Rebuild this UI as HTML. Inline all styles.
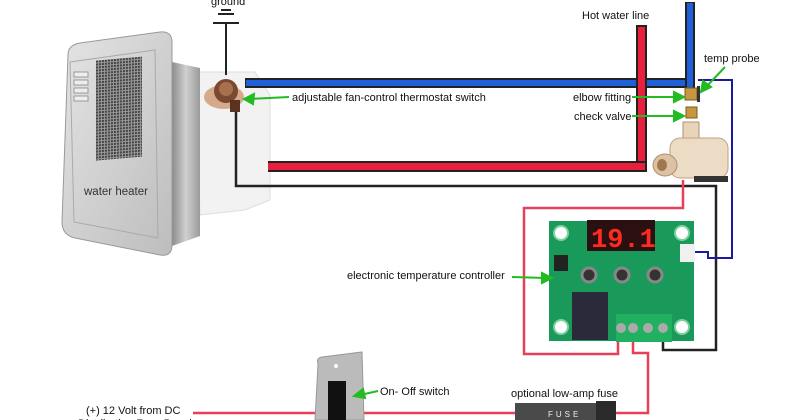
<!DOCTYPE html>
<html><head><meta charset="utf-8"><style>
html,body{margin:0;padding:0;background:#fff;}
svg{display:block;}
text{font-family:"Liberation Sans",Arial,sans-serif;font-size:11px;fill:#111;}
</style></head><body>
<svg width="800" height="420" viewBox="0 0 800 420" xmlns="http://www.w3.org/2000/svg">
<defs>
<linearGradient id="bz" x1="0" x2="1" y1="0" y2="1"><stop offset="0" stop-color="#e4e4e4"/><stop offset="1" stop-color="#bdbdbd"/></linearGradient>
<linearGradient id="gal" x1="0" x2="1"><stop offset="0" stop-color="#8c8c8c"/><stop offset=".5" stop-color="#d0d0d0"/><stop offset="1" stop-color="#9a9a9a"/></linearGradient>
<pattern id="grid" width="3" height="3" patternUnits="userSpaceOnUse"><rect width="3" height="3" fill="#999"/><rect width="2" height="2" fill="#444"/></pattern>
</defs>

<!-- heater body -->
<polygon points="195,72 255,72 270,95 270,200 245,210 200,215" fill="#f2f2f2" stroke="#ddd"/>
<polygon points="172,62 200,68 200,236 172,246" fill="url(#gal)"/>
<!-- bezel -->
<path d="M68,55 Q68,45 80,43 L160,32 Q172,31 172,42 L172,245 Q172,257 160,255 L75,238 Q62,235 62,222 Z" fill="url(#bz)" stroke="#999"/>
<path d="M70,62 L155,50 L158,238 L74,222 Z" fill="none" stroke="#aaa"/>
<rect x="96" y="60" width="46" height="100" fill="url(#grid)" transform="skewY(-5) translate(0,9)"/>
<rect x="74" y="72" width="14" height="5" fill="#eee" stroke="#999"/>
<rect x="74" y="80" width="14" height="5" fill="#eee" stroke="#999"/>
<rect x="74" y="88" width="14" height="5" fill="#eee" stroke="#999"/>
<rect x="74" y="96" width="14" height="5" fill="#eee" stroke="#999"/>
<text x="84" y="195" style="font-size:11.5px;fill:#333">water heater</text>

<!-- ground -->
<text x="211" y="5" style="font-size:11px">ground</text>
<rect x="221" y="9" width="10" height="2" fill="#222"/>
<rect x="218" y="13" width="16" height="2" fill="#222"/>
<rect x="213" y="22" width="26" height="2" fill="#222"/>
<rect x="225" y="23" width="2" height="52" fill="#222"/>

<!-- blue line -->
<rect x="245" y="78" width="448" height="10" fill="#222"/>
<rect x="246" y="80" width="446" height="6" fill="#1f5fd8"/>
<rect x="685" y="2" width="10" height="90" fill="#222"/>
<rect x="687" y="3" width="6" height="88" fill="#1f5fd8"/>
<!-- red line -->
<rect x="636" y="25" width="11" height="147" fill="#222"/>
<rect x="638" y="27" width="7" height="143" fill="#e8203e"/>
<rect x="268" y="161" width="379" height="11" fill="#222"/>
<rect x="268" y="163" width="377" height="7" fill="#e8203e"/>
<rect x="638" y="80" width="7" height="6" fill="#e8203e"/>

<!-- black wire -->
<polyline points="236,108 236,186 716,186 716,350 663,350 663,340" fill="none" stroke="#222" stroke-width="2.5"/>
<!-- blue probe wire -->
<polyline points="698,80 732,80 732,258 708,258 708,252 690,252" fill="none" stroke="#1a1aa0" stroke-width="2"/>
<!-- red wires -->
<polyline points="683,180 683,208 524,208 524,354 618,354 618,340" fill="none" stroke="#e8405a" stroke-width="2.5"/>
<polyline points="633,340 633,353 648,353 648,413 615,413" fill="none" stroke="#e8405a" stroke-width="2.5"/>
<line x1="193" y1="413" x2="515" y2="413" stroke="#e8405a" stroke-width="2.5"/>

<!-- thermostat -->
<ellipse cx="224" cy="97" rx="20" ry="12" fill="#d7a98c"/>
<circle cx="226" cy="91" r="12" fill="#7a4a30"/>
<circle cx="226" cy="89" r="7" fill="#a8704e"/>
<rect x="230" y="100" width="10" height="12" fill="#5a3320"/>

<!-- fittings -->
<rect x="685" y="88" width="12" height="12" fill="#c8963e" stroke="#7a5a20"/>
<rect x="697" y="86" width="3" height="16" fill="#333"/>
<rect x="686" y="107" width="11" height="11" fill="#c8963e" stroke="#7a5a20"/>
<!-- pump -->
<rect x="683" y="122" width="16" height="18" fill="#e8d3bb" stroke="#b09070"/>
<rect x="670" y="138" width="58" height="40" rx="10" fill="#ecdcc6" stroke="#c0a080"/>
<ellipse cx="665" cy="165" rx="12" ry="11" fill="#dcc2a2" stroke="#b09070"/>
<ellipse cx="662" cy="165" rx="5" ry="6" fill="#a07850"/>
<rect x="694" y="176" width="34" height="6" fill="#333"/>

<!-- board -->
<rect x="549" y="221" width="145" height="120" fill="#1a9a5a"/>
<circle cx="561" cy="233" r="7" fill="#fff" stroke="#7fd0a0" stroke-width="2"/>
<circle cx="682" cy="233" r="7" fill="#fff" stroke="#7fd0a0" stroke-width="2"/>
<circle cx="561" cy="327" r="7" fill="#fff" stroke="#7fd0a0" stroke-width="2"/>
<circle cx="682" cy="327" r="7" fill="#fff" stroke="#7fd0a0" stroke-width="2"/>
<rect x="587" y="220" width="68" height="31" fill="#2a1010"/>
<text x="591" y="247" style="font-size:27px;fill:#ff2a20;font-family:'Liberation Mono',monospace;font-weight:bold">19.1</text>
<rect x="680" y="244" width="15" height="18" fill="#f0f0f0"/>
<circle cx="589" cy="275" r="7" fill="#333" stroke="#888" stroke-width="3"/>
<circle cx="622" cy="275" r="7" fill="#333" stroke="#888" stroke-width="3"/>
<circle cx="655" cy="275" r="7" fill="#333" stroke="#888" stroke-width="3"/>
<rect x="554" y="255" width="14" height="16" fill="#222"/>
<rect x="572" y="292" width="36" height="48" fill="#2a2a3a"/>
<rect x="616" y="314" width="56" height="28" fill="#20b060"/>
<circle cx="621" cy="328" r="5" fill="#aaa"/><circle cx="633" cy="328" r="5" fill="#aaa"/><circle cx="648" cy="328" r="5" fill="#aaa"/><circle cx="663" cy="328" r="5" fill="#aaa"/>

<!-- switch -->
<path d="M318,364 Q316,358 322,357 L362,352 L364,420 L315,420 Z" fill="#bbb" stroke="#999"/>
<circle cx="336" cy="366" r="2" fill="#fff"/>
<rect x="328" y="381" width="18" height="39" fill="#111"/>
<!-- fuse -->
<rect x="515" y="403" width="100" height="17" fill="#4a4a4a"/>
<rect x="596" y="401" width="20" height="19" fill="#2a2a2a"/>
<text x="548" y="417" style="font-size:8px;fill:#eee;letter-spacing:3px">FUSE</text>

<!-- labels -->
<text x="292" y="101">adjustable fan-control thermostat switch</text>
<text x="582" y="19">Hot water line</text>
<text x="704" y="62">temp probe</text>
<text x="573" y="101">elbow fitting</text>
<text x="574" y="120">check valve</text>
<text x="347" y="279">electronic temperature controller</text>
<text x="380" y="395">On- Off switch</text>
<text x="511" y="397">optional low-amp fuse</text>
<text x="86" y="414">(+) 12 Volt from DC</text>
<text x="78" y="427">Distribution Fuse Panel</text>

<!-- green arrows -->
<g stroke="#22bb22" stroke-width="2" fill="#22bb22">
<line x1="289" y1="97" x2="250" y2="99"/><polygon points="244,99 254,94 253,104"/>
<line x1="632" y1="97" x2="677" y2="97"/><polygon points="684,97 674,92 674,102"/>
<line x1="632" y1="116" x2="677" y2="116"/><polygon points="684,116 674,111 674,121"/>
<line x1="725" y1="67" x2="706" y2="87"/><polygon points="701,92 703,81 711,87"/>
<line x1="512" y1="277" x2="546" y2="278"/><polygon points="552,278 542,273 542,283"/>
<line x1="378" y1="391" x2="360" y2="395"/><polygon points="354,396 363,389 365,398"/>
</g>
</svg>
</body></html>
